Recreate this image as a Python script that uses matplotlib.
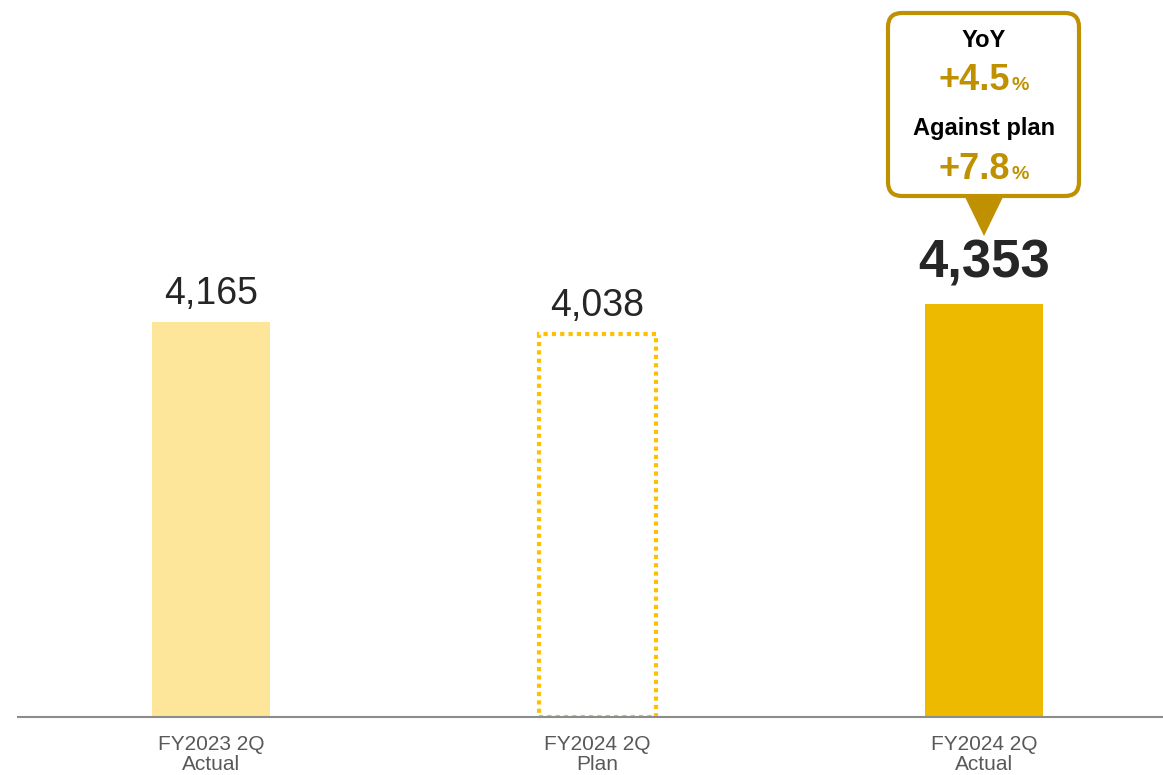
import matplotlib.pyplot as plt
from matplotlib.patches import FancyBboxPatch, Polygon

categories = ["FY2023 2Q\nActual", "FY2024 2Q\nPlan", "FY2024 2Q\nActual"]
values = [4165, 4038, 4353]
value_labels = ["4,165", "4,038", "4,353"]
callout_lines = [("YoY", None), ("+4.5", "%"), ("Against plan", None), ("+7.8", "%")]

plt.rcParams['font.family'] = ['Liberation Sans', 'DejaVu Sans']

W, H = 1163, 775
fig = plt.figure(figsize=(W / 100, H / 100), dpi=100)
ax = fig.add_axes([18 / W, (H - 717) / H, 1 - 18 / W, 717 / H])

light = "#FDE699"
gold = "#EEBA00"
dotted = "#FFC000"
dark_gold = "#BF9000"
text_col = "#262626"

width = 0.305
x = list(range(len(values)))
ax.bar(x[0], values[0], width=width, color=light, zorder=2)
ax.bar(x[1], values[1], width=width, facecolor="none", edgecolor=dotted,
       linewidth=3, linestyle=(0, (1, 1)), zorder=2)
ax.bar(x[2], values[2], width=width, color=gold, zorder=2)

for i, (v, lab) in enumerate(zip(values, value_labels)):
    if i == 2:
        ax.annotate(lab, (i, v), xytext=(0, 19), textcoords="offset points",
                    ha="center", va="baseline", fontsize=38, fontweight="bold",
                    color=text_col)
    else:
        ax.annotate(lab, (i, v), xytext=(0, 13), textcoords="offset points",
                    ha="center", va="baseline", fontsize=27, color=text_col)

ax.set_xlim(-0.4994, 2.463)
ax.set_ylim(0, 7560)
ax.set_xticks(x)
ax.set_xticklabels(categories, fontsize=15, color="#595959", linespacing=1.05)
ax.tick_params(axis="x", length=0, pad=13)
ax.set_yticks([])
for s in ["top", "right", "left"]:
    ax.spines[s].set_visible(False)
ax.spines["bottom"].set_color("#8C8C8C")
ax.spines["bottom"].set_linewidth(1.5)

# callout box in pixel coordinates
ov = fig.add_axes([0, 0, 1, 1], facecolor="none")
ov.set_xlim(0, W)
ov.set_ylim(H, 0)
ov.axis("off")
box = FancyBboxPatch((888, 13), 191, 183, boxstyle="round,pad=0,rounding_size=14",
                     facecolor="white", edgecolor=dark_gold, linewidth=3, zorder=3)
ov.add_patch(box)
ov.add_patch(Polygon([(965, 197), (1003, 197), (984, 236)], closed=True,
                     facecolor=dark_gold, edgecolor="none", zorder=3))

cx = 984
baselines = [47, 90, 135, 179]
for (txt, pct), yb in zip(callout_lines, baselines):
    if pct is None:
        ov.text(cx, yb, txt, ha="center", va="baseline", fontsize=17,
                fontweight="bold", color="black", zorder=4)
    else:
        ov.text(1010, yb, txt, ha="right", va="baseline", fontsize=26,
                fontweight="bold", color=dark_gold, zorder=4)
        ov.text(1011, yb, pct, ha="left", va="baseline", fontsize=14,
                fontweight="bold", color=dark_gold, zorder=4)

fig.savefig("out.png", dpi=100)
